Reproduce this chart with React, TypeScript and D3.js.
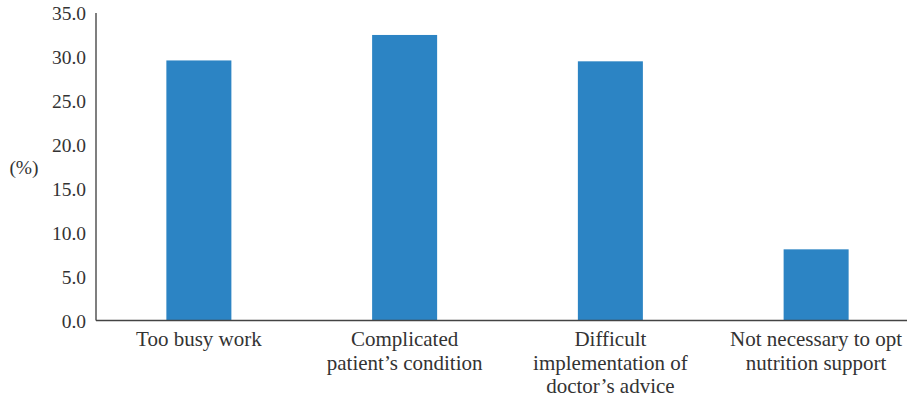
import React from "react";
import * as d3 from "d3";

const categories: string[][] = [
  ["Too busy work"],
  ["Complicated", "patient\u2019s condition"],
  ["Difficult", "implementation of", "doctor\u2019s advice"],
  ["Not necessary to opt", "nutrition support"],
];
const values: number[] = [29.6, 32.5, 29.5, 8.1];
const yTicks: number[] = [0, 5, 10, 15, 20, 25, 30, 35];

const W = 907;
const H = 402;
const left = 96;
const right = 919;
const top = 13;
const bottom = 320.5;

export default function App() {
  const x = d3
    .scaleBand<number>()
    .domain(values.map((_, i) => i))
    .range([left, right])
    .paddingInner(0.684)
    .paddingOuter(0.342);
  const y = d3.scaleLinear().domain([0, 35]).range([bottom, top]);

  return (
    <div style={{ position: "absolute", left: 0, top: 0, width: W, height: H }}>
      <svg width={W} height={H}>
        <style>{"text, tspan { font-family: 'Liberation Serif', 'Times New Roman', serif !important; }"}</style>
        {values.map((v, i) => (
          <rect
            key={i}
            x={x(i)}
            y={y(v)}
            width={x.bandwidth()}
            height={y(0) - y(v)}
            fill="#2C84C4"
          />
        ))}
        <line x1={left} x2={left} y1={top} y2={bottom} stroke="#555" strokeWidth={1.5} />
        <line x1={left} x2={W} y1={bottom} y2={bottom} stroke="#444" strokeWidth={1.5} />
        {yTicks.map((t) => (
          <text
            key={t}
            x={86}
            y={y(t) + 7}
            textAnchor="end"
            fontFamily="Liberation Serif"
            fontSize={19.5}
            fill="#333333"
          >
            {t.toFixed(1)}
          </text>
        ))}
        <text
          x={24}
          y={(top + bottom) / 2 + 7}
          textAnchor="middle"
          fontFamily="Liberation Serif"
          fontSize={19.5}
          fill="#333333"
        >
          (%)
        </text>
        {categories.map((lines, i) => (
          <text
            key={i}
            x={(x(i) as number) + x.bandwidth() / 2}
            y={346}
            textAnchor="middle"
            fontFamily="Liberation Serif"
            fontSize={21}
            fill="#333333"
          >
            {lines.map((l, j) => (
              <tspan key={j} x={(x(i) as number) + x.bandwidth() / 2} dy={j === 0 ? 0 : 23.5}>
                {l}
              </tspan>
            ))}
          </text>
        ))}
      </svg>
    </div>
  );
}
